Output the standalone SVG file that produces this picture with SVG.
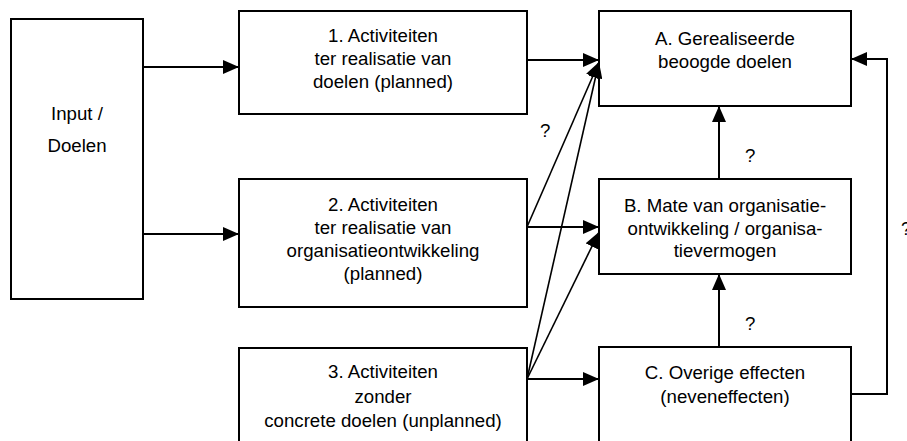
<svg xmlns="http://www.w3.org/2000/svg" width="907" height="441" viewBox="0 0 907 441">
<style>
.box{fill:#fff;stroke:#000;stroke-width:2}
.t{font-family:"Liberation Sans",Arial,sans-serif;font-size:18.67px;fill:#000;text-anchor:middle}
.q{font-family:"Liberation Sans",Arial,sans-serif;font-size:18.67px;fill:#000}
.c{fill:none;stroke:#000;stroke-width:2}
.d{fill:none;stroke:#000;stroke-width:1.6}
</style>
<defs>
<marker id="ah" markerUnits="userSpaceOnUse" markerWidth="16" markerHeight="14" refX="16" refY="7" orient="auto" viewBox="0 0 16 14">
<path d="M0,0 L16,7 L0,14 Z" fill="#000"/>
</marker>
</defs>
<rect width="907" height="441" fill="#fff"/>
<g id="input">
<rect class="box" x="11" y="19" width="132" height="280"/>
<text class="t" x="77" y="120">Input /</text>
<text class="t" x="77" y="152">Doelen</text>
</g>
<g id="act1">
<rect class="box" x="239" y="11" width="288" height="103"/>
<text class="t" x="383" y="42">1. Activiteiten</text>
<text class="t" x="383" y="65">ter realisatie van</text>
<text class="t" x="383" y="88">doelen (planned)</text>
</g>
<g id="act2">
<rect class="box" x="239" y="179" width="288" height="128"/>
<text class="t" x="383" y="211">2. Activiteiten</text>
<text class="t" x="383" y="234">ter realisatie van</text>
<text class="t" x="383" y="257">organisatieontwikkeling</text>
<text class="t" x="383" y="280">(planned)</text>
</g>
<g id="act3">
<rect class="box" x="239" y="348" width="288" height="110"/>
<text class="t" x="383" y="378">3. Activiteiten</text>
<text class="t" x="383" y="403">zonder</text>
<text class="t" x="383" y="427">concrete doelen (unplanned)</text>
</g>
<g id="resA">
<rect class="box" x="599" y="11" width="252" height="95"/>
<text class="t" x="725" y="45">A. Gerealiseerde</text>
<text class="t" x="725" y="68">beoogde doelen</text>
</g>
<g id="resB">
<rect class="box" x="599" y="179" width="252" height="95"/>
<text class="t" x="725" y="212">B. Mate van organisatie-</text>
<text class="t" x="725" y="235">ontwikkeling / organisa-</text>
<text class="t" x="725" y="257">tievermogen</text>
</g>
<g id="resC">
<rect class="box" x="599" y="347" width="252" height="110"/>
<text class="t" x="725" y="379">C. Overige effecten</text>
<text class="t" x="725" y="403">(neveneffecten)</text>
</g>
<g id="connectors">
<line class="c" x1="143" y1="67" x2="239" y2="67" marker-end="url(#ah)"/>
<line class="c" x1="143" y1="234" x2="239" y2="234" marker-end="url(#ah)"/>
<line class="c" x1="527" y1="60" x2="599" y2="60" marker-end="url(#ah)"/>
<line class="d" x1="527" y1="227" x2="599" y2="62" marker-end="url(#ah)"/>
<line class="d" x1="527" y1="379" x2="599" y2="62" marker-end="url(#ah)"/>
<line class="c" x1="527" y1="227" x2="599" y2="227" marker-end="url(#ah)"/>
<line class="d" x1="527" y1="379" x2="599" y2="232" marker-end="url(#ah)"/>
<line class="c" x1="527" y1="379" x2="599" y2="379" marker-end="url(#ah)"/>
<line class="c" x1="719" y1="179" x2="719" y2="106" marker-end="url(#ah)"/>
<line class="c" x1="719" y1="347" x2="719" y2="274" marker-end="url(#ah)"/>
<polyline class="c" points="851,394 887,394 887,59 851,59" marker-end="url(#ah)"/>
</g>
<g id="labels">
<text class="q" x="540" y="137">?</text>
<text class="q" x="745" y="162">?</text>
<text class="q" x="745" y="330">?</text>
<text class="q" x="901" y="235">?</text>
</g>
</svg>
